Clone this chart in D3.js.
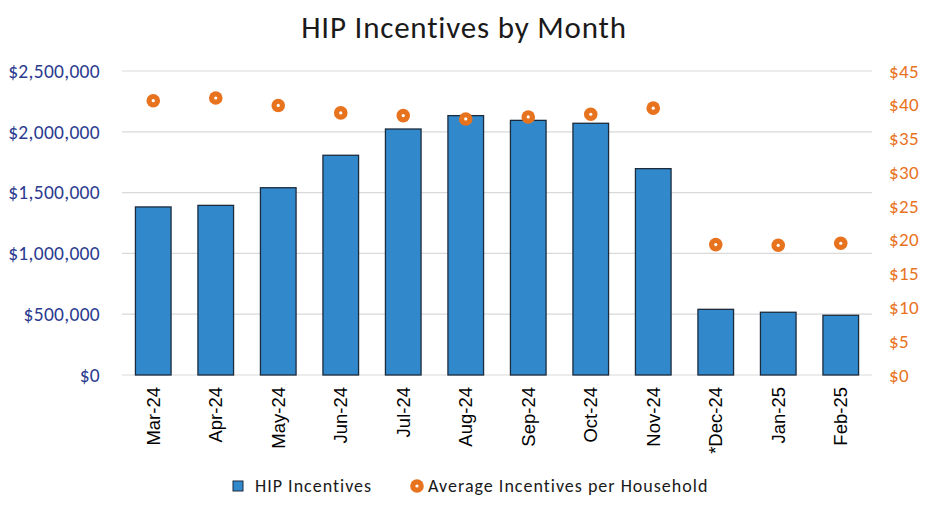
<!DOCTYPE html>
<html><head><meta charset="utf-8">
<script src="https://cdn.jsdelivr.net/npm/d3@7"></script>
<style>
body{margin:0;background:#fff;}
svg{display:block;}
svg text{font-family:Carlito,Calibri,Lato,sans-serif;}
svg text.xl{font-family:"Liberation Sans",Arial,sans-serif;}
</style></head>
<body>
<svg id="chart" width="937" height="516"></svg>
<script>
const months = ["Mar-24","Apr-24","May-24","Jun-24","Jul-24","Aug-24","Sep-24","Oct-24","Nov-24","*Dec-24","Jan-25","Feb-25"];
const hipIncentives = [1382000,1395000,1540000,1807000,2023000,2133000,2094000,2070000,1697000,540000,516000,491000];
const avgPerHousehold = [40.6,41.0,39.9,38.8,38.4,37.9,38.2,38.6,39.5,19.3,19.2,19.5];
const leftTicks = [0,500000,1000000,1500000,2000000,2500000];
const rightTicks = [0,5,10,15,20,25,30,35,40,45];

const svg = d3.select("#chart");
const m = {left:122, right:872, top:71, bottom:375};

const x = d3.scaleBand().domain(months).range([m.left, m.right]).paddingInner(0.43).paddingOuter(0.215);
const yL = d3.scaleLinear().domain([0,2500000]).range([m.bottom, m.top]);
const yR = d3.scaleLinear().domain([0,45]).range([m.bottom, m.top]);

// gridlines
svg.append("g").selectAll("line").data(leftTicks).join("line")
  .attr("x1", m.left).attr("x2", m.right)
  .attr("y1", d => yL(d)).attr("y2", d => yL(d))
  .attr("stroke", "#d9d9d9").attr("stroke-width", 1.2);

// left axis
const leftAxis = d3.axisLeft(yL).tickValues(leftTicks).tickSize(0).tickPadding(22)
  .tickFormat(d => "$" + d3.format(",")(d));
svg.append("g").attr("transform", `translate(${m.left},0)`).call(leftAxis)
  .attr("font-family", null)
  .call(g => g.select(".domain").remove())
  .selectAll("text").attr("fill", "#2a3b8f").attr("font-size", "19.5px").attr("letter-spacing", "0.3px");

// right axis
const rightAxis = d3.axisRight(yR).tickValues(rightTicks).tickSize(0).tickPadding(17)
  .tickFormat(d => "$" + d);
svg.append("g").attr("transform", `translate(${m.right},0)`).call(rightAxis)
  .attr("font-family", null)
  .call(g => g.select(".domain").remove())
  .selectAll("text").attr("fill", "#e8731f").attr("font-size", "19px").attr("letter-spacing", "0.4px");

// bars
svg.append("g").selectAll("rect").data(months).join("rect")
  .attr("x", d => x(d)).attr("width", x.bandwidth())
  .attr("y", (d,i) => yL(hipIncentives[i]))
  .attr("height", (d,i) => yL(0) - yL(hipIncentives[i]))
  .attr("fill", "#3189cb").attr("stroke", "#1c2b3c").attr("stroke-width", 1.3);

// dots
const dots = svg.append("g");
dots.selectAll("circle.o").data(months).join("circle").attr("class","o")
  .attr("cx", d => x(d) + x.bandwidth()/2)
  .attr("cy", (d,i) => yR(avgPerHousehold[i]))
  .attr("r", 6.8).attr("fill", "#e8731f");
dots.selectAll("circle.w").data(months).join("circle").attr("class","w")
  .attr("cx", d => x(d) + x.bandwidth()/2)
  .attr("cy", (d,i) => yR(avgPerHousehold[i]))
  .attr("r", 1.6).attr("fill", "#fff");

// x axis labels
const xAxis = d3.axisBottom(x).tickSize(0).tickPadding(0);
const xg = svg.append("g").attr("transform", `translate(0,${m.bottom})`).call(xAxis)
  .attr("font-family", null);
xg.select(".domain").remove();
xg.selectAll("text").attr("class", "xl")
  .attr("transform", "rotate(-90)")
  .attr("text-anchor", "end")
  .attr("x", -12).attr("y", 0).attr("dy", "0.35em")
  .attr("fill", "#000").attr("font-size", "18.5px");

// title
svg.append("text").attr("x", 464).attr("y", 38).attr("text-anchor", "middle")
  .attr("font-size", "31px").attr("letter-spacing", "0.8px").attr("fill", "#1a1a1a").text("HIP Incentives by Month");

// legend
const lg = svg.append("g");
lg.append("rect").attr("x", 233).attr("y", 481).attr("width", 10).attr("height", 10)
  .attr("fill", "#3189cb").attr("stroke", "#1c2b3c").attr("stroke-width", 1);
lg.append("text").attr("x", 255).attr("y", 486).attr("dy", "0.35em")
  .attr("font-size", "18px").attr("letter-spacing", "1px").attr("fill", "#1a1a1a").text("HIP Incentives");
lg.append("circle").attr("cx", 417).attr("cy", 486).attr("r", 6.8).attr("fill", "#e8731f");
lg.append("circle").attr("cx", 417).attr("cy", 486).attr("r", 1.6).attr("fill", "#fff");
lg.append("text").attr("x", 428).attr("y", 486).attr("dy", "0.35em")
  .attr("font-size", "18px").attr("letter-spacing", "1px").attr("fill", "#1a1a1a").text("Average Incentives per Household");
</script>
</body></html>
